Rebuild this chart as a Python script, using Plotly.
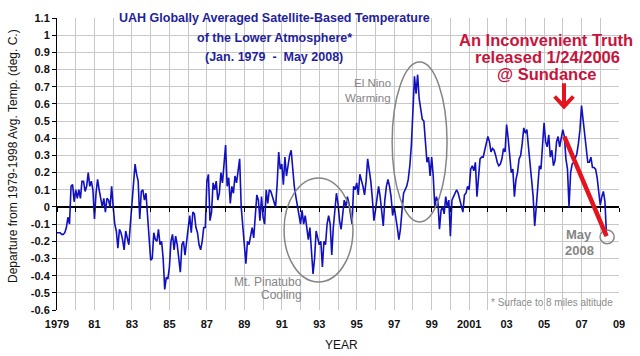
import numpy as np
import plotly.graph_objects as go

# ---------------- data (monthly UAH lower-troposphere anomaly, deg C) ----------------
start_year = 1979
anomaly = [
    # 1979
    -0.15, -0.15, -0.15, -0.16, -0.16, -0.15, -0.12, -0.06, -0.10, 0.12, 0.13, 0.03,
    # 1980
    0.10, 0.05, 0.10, 0.05, 0.15, 0.15, 0.09, 0.12, 0.20, 0.12, 0.15, 0.10,
    # 1981
    -0.07, 0.08, 0.16, 0.10, 0.05, 0.00, 0.05, -0.03, 0.05, 0.04, 0.00, 0.12,
    # 1982
    0.00, -0.10, -0.14, -0.24, -0.13, -0.15, -0.19, -0.25, -0.14, -0.18, -0.22, -0.10,
    # 1983
    0.03, 0.13, 0.25, 0.19, 0.15, -0.07, 0.09, 0.10, 0.04, 0.08, -0.05, -0.12,
    # 1984
    -0.31, -0.30, -0.15, -0.19, -0.20, -0.13, -0.22, -0.20, -0.30, -0.48, -0.41, -0.42,
    # 1985
    -0.35, -0.20, -0.16, -0.25, -0.17, -0.22, -0.30, -0.38, -0.22, -0.20, -0.28, -0.20,
    # 1986
    -0.15, -0.05, -0.15, -0.03, -0.04, -0.12, -0.15, -0.22, -0.25, -0.20, -0.12, -0.12,
    # 1987
    0.15, 0.19, -0.08, -0.03, 0.14, 0.10, 0.15, 0.04, 0.08, 0.20, 0.14, 0.25,
    # 1988
    0.36, 0.12, 0.17, 0.02, 0.12, 0.08, 0.18, 0.14, 0.20, 0.28, 0.00, -0.10,
    # 1989
    -0.23, -0.33, -0.20, -0.22, -0.17, -0.12, -0.18, -0.05, 0.07, 0.04, -0.08, 0.06,
    # 1990
    -0.06, -0.10, 0.10, 0.02, 0.10, 0.09, 0.06, 0.02, 0.00, 0.13, 0.32, 0.22,
    # 1991
    0.25, 0.13, 0.29, 0.18, 0.25, 0.30, 0.33, 0.20, 0.12, 0.06, 0.00, -0.06,
    # 1992
    -0.10, -0.02, -0.10, -0.05, -0.12, -0.19, -0.12, -0.28, -0.39, -0.30, -0.14, -0.18,
    # 1993
    -0.22, -0.20, -0.35, -0.20, -0.22, -0.10, -0.05, -0.10, -0.28, -0.12, 0.00, 0.08,
    # 1994
    0.02, -0.08, -0.13, -0.04, 0.04, 0.00, 0.06, 0.02, -0.03, -0.10, 0.12, 0.10,
    # 1995
    0.14, 0.07, 0.19, 0.16, 0.12, 0.07, 0.15, 0.28, 0.22, 0.15, 0.05, -0.08,
    # 1996
    -0.02, 0.04, 0.12, 0.06, -0.05, -0.11, 0.04, 0.12, 0.16, 0.12, 0.06, -0.05,
    # 1997
    0.00, -0.05, -0.12, -0.19, -0.13, -0.02, 0.08, 0.10, 0.12, 0.16, 0.24, 0.36,
    # 1998
    0.58, 0.76, 0.66, 0.77, 0.63, 0.58, 0.51, 0.50, 0.37, 0.26, 0.29, 0.18,
    # 1999
    0.29, 0.18, 0.00, 0.06, 0.03, -0.13, -0.02, 0.00, -0.04, 0.06, 0.00, 0.04,
    # 2000
    -0.17, 0.04, 0.06, 0.08, 0.10, 0.08, 0.04, 0.00, -0.03, 0.07, 0.08, 0.12,
    # 2001
    0.10, 0.22, 0.24, 0.21, 0.26, 0.06, 0.20, 0.28, 0.29, 0.29, 0.33, 0.38,
    # 2002
    0.41, 0.38, 0.32, 0.34, 0.33, 0.30, 0.26, 0.24, 0.25, 0.28, 0.34, 0.32,
    # 2003
    0.48, 0.40, 0.27, 0.20, 0.22, 0.06, 0.16, 0.20, 0.28, 0.30, 0.37, 0.46,
    # 2004
    0.43, 0.45, 0.35, 0.23, 0.16, 0.06, -0.11, 0.00, 0.14, 0.24, 0.22, 0.35,
    # 2005
    0.49, 0.38, 0.35, 0.42, 0.29, 0.33, 0.24, 0.27, 0.38, 0.41, 0.35, 0.40,
    # 2006
    0.45, 0.41, 0.28, 0.22, 0.00, 0.20, 0.25, 0.26, 0.29, 0.31, 0.37, 0.45,
    # 2007
    0.59, 0.51, 0.42, 0.32, 0.26, 0.26, 0.29, 0.23, 0.23, 0.22, 0.17, 0.09,
    # 2008 (Jan-May)
    0.01, 0.06, 0.09, 0.03, -0.17,
]

x_tick_years = list(range(1979, 2010, 2))
x_tick_labels = ["1979", "81", "83", "85", "87", "89", "91", "93", "95", "97",
                 "99", "2001", "03", "05", "07", "09"]
y_tick_labels = ["-0.6", "-0.5", "-0.4", "-0.3", "-0.2", "-0.1", "0", "0.1", "0.2",
                 "0.3", "0.4", "0.5", "0.6", "0.7", "0.8", "0.9", "1", "1.1"]
release_date = 2006 + 23 / 365.0      # An Inconvenient Truth, 1/24/2006
trend_from_month = "2006-02"
trend_to_month = "2008-05"

# ---------------- derived positions ----------------
months = np.arange(len(anomaly))
x = start_year + months / 12.0
y_tick_vals = [float(s) for s in y_tick_labels]
x_range = [x_tick_years[0], x_tick_years[-1]]
y_range = [y_tick_vals[0], y_tick_vals[-1]]


def month_index(tag):
    yy, mm = tag.split("-")
    return (int(yy) - start_year) * 12 + int(mm) - 1


i0, i1 = month_index(trend_from_month), month_index(trend_to_month)

FONT = "Liberation Sans, Arial, sans-serif"
W_FIG, H_FIG = 640, 356
L, R, T, B = 57, 21, 18, 46
PW, PH = W_FIG - L - R, H_FIG - T - B


def px(p):
    return (p - L) / PW


def py(p):
    return (H_FIG - B - p) / PH


def note(text, xp, yp, size, color, bold=False, xanchor="center", angle=0):
    return dict(text=f"<b>{text}</b>" if bold else text, x=px(xp), y=py(yp),
                xref="paper", yref="paper", xanchor=xanchor, yanchor="middle",
                showarrow=False, textangle=angle,
                font=dict(size=size, color=color, family=FONT))


fig = go.Figure()
fig.add_trace(go.Scatter(x=x, y=anomaly, mode="lines",
                         line=dict(color="#1010c0", width=1.6),
                         hoverinfo="skip", showlegend=False))
# empty trace to host the tick axis that sits on the zero line
fig.add_trace(go.Scatter(x=[], y=[], xaxis="x2", yaxis="y", showlegend=False,
                         hoverinfo="skip"))

GRID = "#c8c8c8"
GREY = "#858585"
RED = "#e3141e"
CRIMSON = "#c8143c"
BLUE = "#1f1f9c"

shapes = [
    # white boxes behind the text blocks (hide gridlines)
    dict(type="rect", xref="paper", yref="paper", x0=px(117), x1=px(433),
         y0=py(64), y1=py(4), fillcolor="white", line=dict(width=0), layer="between"),
    dict(type="rect", xref="paper", yref="paper", x0=px(452), x1=px(640),
         y0=py(82), y1=py(24), fillcolor="white", line=dict(width=0), layer="between"),
    # ellipses
    dict(type="circle", xref="x", yref="y", x0=1991.12, x1=1994.8, y0=-0.437, y1=0.169,
         line=dict(color=GREY, width=1.5)),
    dict(type="circle", xref="x", yref="y", x0=1996.89, x1=1999.82, y0=-0.087, y1=0.844,
         line=dict(color=GREY, width=1.5)),
    dict(type="circle", xref="x", yref="y", x0=2007.99, x1=2008.74, y0=-0.215, y1=-0.134,
         line=dict(color=GREY, width=1.5)),
    # red trend line
    dict(type="line", xref="x", yref="y", x0=float(x[i0]), y0=anomaly[i0],
         x1=float(x[i1]), y1=anomaly[i1], line=dict(color=RED, width=4.5)),
    # red arrow
    dict(type="line", xref="x", yref="y", x0=release_date, x1=release_date,
         y0=0.72, y1=0.585, line=dict(color=RED, width=4)),
    dict(type="path", xref="x", yref="y",
         path=f"M {release_date-0.5},0.643 L {release_date},0.585 L {release_date+0.5},0.643",
         line=dict(color=RED, width=4)),
]

annotations = [
    note("UAH Globally Averaged Satellite-Based Temperature", 274, 18, 12.5, BLUE, True),
    note("of the Lower Atmosphere*", 274, 38, 12.5, BLUE, True),
    note("(Jan. 1979 &nbsp;- &nbsp;May 2008)", 274, 57, 12.5, BLUE, True),
    note("An Inconvenient Truth", 546, 40, 16.5, CRIMSON, True),
    note("released 1/24/2006", 547, 57, 16.5, CRIMSON, True),
    note("@ Sundance", 547, 74, 16.5, CRIMSON, True),
    note("El Nino", 393, 83, 11.5, GREY, False, "right"),
    note("Warming", 393, 98, 11.5, GREY, False, "right"),
    note("Mt. Pinatubo", 304, 282, 12, GREY, False, "right"),
    note("Cooling", 304, 295, 12, GREY, False, "right"),
    note("May", 579, 234, 13, GREY, True),
    note("2008", 579.5, 250.5, 13, GREY, True),
    note("* Surface to 8 miles altitude", 615, 302, 10, "#8c8c8c", False, "right"),
    note("Departure from 1979-1998 Avg. Temp. (deg. C.)", 13, 156, 12, "#111111",
         False, "center", -90),
    note("YEAR", 341, 345, 12, "#111111"),
]

fig.update_layout(
    width=W_FIG, height=H_FIG,
    margin=dict(l=L, r=R, t=T, b=B, pad=0),
    paper_bgcolor="white", plot_bgcolor="white",
    font=dict(family=FONT, color="#111111"),
    showlegend=False,
    xaxis=dict(range=x_range, tickmode="array", tickvals=x_tick_years,
               ticktext=[f"<b>{t}</b>" for t in x_tick_labels],
               tickfont=dict(size=11, color="#111111"), ticks="", ticklabelstandoff=6,
               showgrid=True, gridcolor=GRID, gridwidth=1,
               minor=dict(tick0=1979, dtick=1, showgrid=True, gridcolor=GRID, gridwidth=1),
               zeroline=False, showline=False, fixedrange=True, automargin=False),
    xaxis2=dict(range=x_range, overlaying="x", anchor="free",
                position=(0 - y_range[0]) / (y_range[1] - y_range[0]),
                tickmode="linear", tick0=1979, dtick=1, ticks="outside", ticklen=4,
                tickcolor="#000000", tickwidth=1, showticklabels=False,
                showgrid=False, zeroline=False, showline=False, automargin=False),
    yaxis=dict(range=y_range, tickmode="array", tickvals=y_tick_vals,
               ticktext=[f"<b>{t}</b>" for t in y_tick_labels],
               tickfont=dict(size=11, color="#111111"),
               ticks="outside", ticklen=4, tickcolor="#000000",
               showgrid=True, gridcolor=GRID, gridwidth=1,
               zeroline=True, zerolinecolor="#000000", zerolinewidth=1.2,
               showline=True, linecolor="#000000", linewidth=1, fixedrange=True,
               automargin=False),
    shapes=shapes,
    annotations=annotations,
)

fig.write_html("out.html",
               config={"displayModeBar": False, "staticPlot": True},
               post_script="document.body.style.margin='0';"
                           "document.body.style.overflow='hidden';")
